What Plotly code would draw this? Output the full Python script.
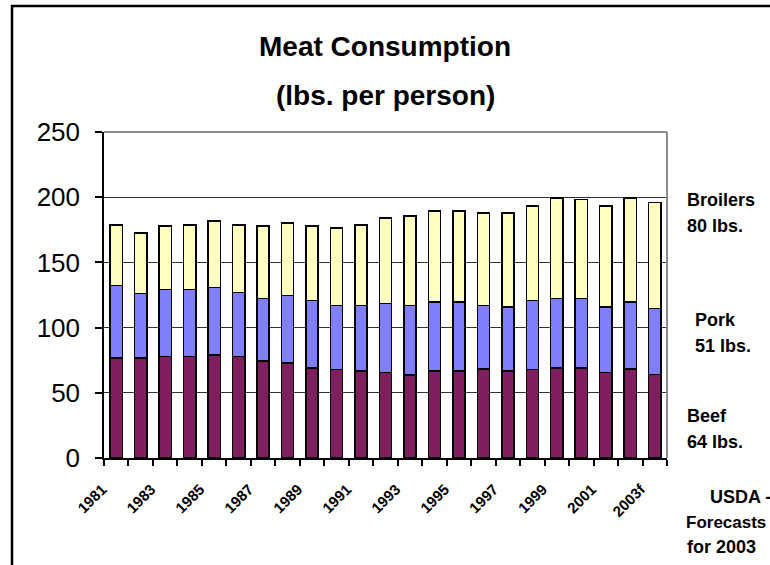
import plotly.graph_objects as go

years = ["1981", "1982", "1983", "1984", "1985", "1986", "1987", "1988", "1989", "1990",
         "1991", "1992", "1993", "1994", "1995", "1996", "1997", "1998", "1999", "2000",
         "2001", "2002", "2003f"]
beef = [76.8, 76.8, 77.8, 77.8, 79.1, 77.8, 74.2, 72.9, 69.1, 67.8, 66.8, 65.5, 63.8,
        66.8, 66.8, 68.1, 66.8, 67.8, 69.1, 69.1, 65.5, 68.1, 64.0]
pork = [55.6, 49.2, 51.5, 51.5, 51.8, 49.3, 48.0, 51.6, 51.5, 49.3, 50.3, 52.8, 53.3,
        52.8, 52.8, 49.0, 49.0, 52.8, 53.1, 53.1, 50.3, 51.5, 50.7]
broilers = [46.4, 46.7, 48.5, 49.5, 51.0, 51.7, 55.6, 55.9, 57.2, 59.4, 61.7, 65.9, 68.4,
            69.9, 69.9, 70.9, 72.2, 72.5, 77.3, 76.0, 77.3, 79.9, 81.2]
tick_labels = [y if i % 2 == 0 else "" for i, y in enumerate(years)]

FONT = "Liberation Sans"
W, H = 770, 565
L, R, T, B = 104, 667, 132, 458


def px(x):
    return (x - L) / (R - L)


def py(y):
    return (B - y) / (B - T)


fig = go.Figure()
for name, vals, col in [("Beef", beef, "#7F1F5F"),
                        ("Pork", pork, "#8080FF"),
                        ("Broilers", broilers, "#FFFFC0")]:
    fig.add_trace(go.Bar(x=years, y=vals, name=name, marker_color=col,
                         marker_line_color="black", marker_line_width=1.5))

fig.update_layout(
    barmode="stack", bargap=0.5, showlegend=False,
    width=W, height=H,
    margin=dict(l=L, r=W - R, t=T, b=H - B, pad=0),
    paper_bgcolor="white", plot_bgcolor="white",
    font=dict(family=FONT, color="black"),
)
fig.update_xaxes(
    type="category", tickvals=years, ticktext=tick_labels, tickangle=-45,
    tickson="boundaries", ticks="outside", ticklen=6, tickcolor="black", tickwidth=1.5,
    tickfont=dict(family=FONT, size=15, color="black", weight="bold"),
    ticklabelstandoff=15, ticklabelshift=-14,
    showline=True, linecolor="black", linewidth=1.5, showgrid=False,
)
fig.update_yaxes(
    range=[0, 250], dtick=50, ticks="outside", ticklen=7, tickcolor="black", tickwidth=1.5,
    tickfont=dict(family=FONT, size=26, color="black"),
    ticklabelstandoff=10,
    showline=True, linecolor="black", linewidth=1.5,
    showgrid=True, gridcolor="#333333", gridwidth=1, zeroline=False,
)

shapes = [
    dict(type="line", xref="paper", yref="paper", x0=0, x1=1, y0=1, y1=1,
         line=dict(color="#8C8C8C", width=2)),
    dict(type="line", xref="paper", yref="paper", x0=1, x1=1, y0=0, y1=1,
         line=dict(color="#8C8C8C", width=2)),
    dict(type="rect", xref="paper", yref="paper", x0=px(12), x1=px(790),
         y0=py(600), y1=py(6), line=dict(color="black", width=2.5)),
]
fig.update_layout(shapes=shapes)

anns = []
for txt, y in [("Meat Consumption", 47), ("(lbs. per person)", 95)]:
    anns.append(dict(text="<b>%s</b>" % txt, x=px(385), y=py(y), xref="paper", yref="paper",
                     showarrow=False, xanchor="center", yanchor="middle",
                     font=dict(family=FONT, size=28, color="black")))
side = [("Broilers", 685, 200, 18), ("80 lbs.", 685, 226, 18),
        ("Pork", 693, 320, 18), ("51 lbs.", 693, 346, 18),
        ("Beef", 685, 416, 18), ("64 lbs.", 685, 442, 18),
        ("USDA -", 708, 497, 18), ("Forecasts", 684, 522, 17), ("for 2003", 685, 547, 18)]
for txt, x, y, s in side:
    anns.append(dict(text="<b>%s</b>" % txt, x=px(x), y=py(y), xref="paper", yref="paper",
                     showarrow=False, xanchor="left", yanchor="middle",
                     font=dict(family=FONT, size=s, color="black")))
fig.update_layout(annotations=anns)

fig.write_html("out.html")
